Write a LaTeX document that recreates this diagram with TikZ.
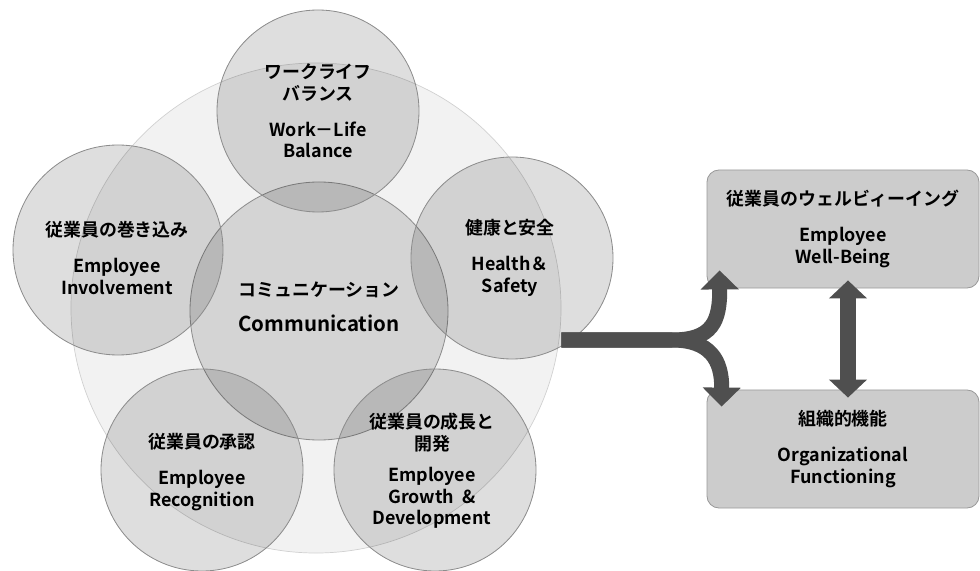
\documentclass[tikz,border=0pt]{standalone}
\usepackage{fontspec}
\setmainfont{Noto Sans CJK JP}[BoldFont={Noto Sans CJK JP Bold}]
\usetikzlibrary{arrows.meta,calc}

\begin{document}
\begin{tikzpicture}[x=0.03cm,y=-0.03cm,
    bubble/.style={circle,draw=black!45,line width=0.7pt,fill=black,fill opacity=0.13,minimum size=6.06cm,inner sep=0pt},
    lbl/.style={align=center,font=\bfseries\fontsize{15.3}{18.5}\selectfont},
    outbox/.style={lbl,draw=black!40,line width=0.7pt,fill=black!20,rounded corners=0.36cm,minimum width=8.16cm,minimum height=3.54cm},
    flow/.style={draw=black!69,line width=0.45cm,-{Triangle[width=1.11cm,length=0.57cm]}},
    both/.style={draw=black!69,line width=0.5cm,{Triangle[width=1.11cm,length=0.54cm]}-{Triangle[width=1.11cm,length=0.54cm]}}]
\useasboundingbox (0,0) rectangle (980,571);

% backdrop and the six bubbles
\node[circle,draw=black!18,line width=0.6pt,fill=black!5,minimum size=14.7cm,inner sep=0pt] (model) at (316,308) {};
\node[bubble,minimum size=7.74cm,fill opacity=0.12] (comm) at (319,311) {};
\node[bubble] (balance) at (318,111) {};
\node[bubble,minimum size=6.3cm] (involve) at (118,250) {};
\node[bubble] (health) at (512,258) {};
\node[bubble] (recog) at (202,470) {};
\node[bubble] (growth) at (435,470) {};

% labels
\node[lbl] (commText) at (319,307) {コミュニケーション\\[11pt]{\fontsize{17.5}{21}\selectfont Communication}};
\node[lbl] (balanceText) at (318,111) {ワークライフ\\バランス\\[12pt]Work－Life\\Balance};
\node[lbl] (involveText) at (117,258) {従業員の巻き込み\\[12pt]Employee\\Involvement};
\node[lbl] (healthText) at (510,258) {健康と安全\\[12pt]Health＆\\Safety};
\node[lbl] (recogText) at (202,472) {従業員の承認\\[12pt]Employee\\Recognition};
\node[lbl] (growthText) at (432,471) {従業員の成長と\\開発\\[8pt]Employee\\Growth\ \ \&\\Development};

% outcomes
\node[outbox] (wellbeing) at (843,229) {従業員のウェルビィーイング\\[12pt]Employee\\Well-Being};
\node[outbox] (orgfunc) at (843,449) {組織的機能\\[12pt]Organizational\\Functioning};

% split arrow and link between outcomes
\coordinate (fork) at (672,340);
\draw[flow] (model.east |- fork) -- (fork) .. controls (712,340) and (720,322) .. ($(wellbeing.south west)+(13,-18)$);
\draw[flow] (model.east |- fork) -- (fork) .. controls (710,340) and (722,360) .. ($(orgfunc.north west)+(15,17)$);
\draw[both] ($(wellbeing.south)+(5,-8)$) -- ($(orgfunc.north)+(5,8)$);
\end{tikzpicture}
\end{document}
